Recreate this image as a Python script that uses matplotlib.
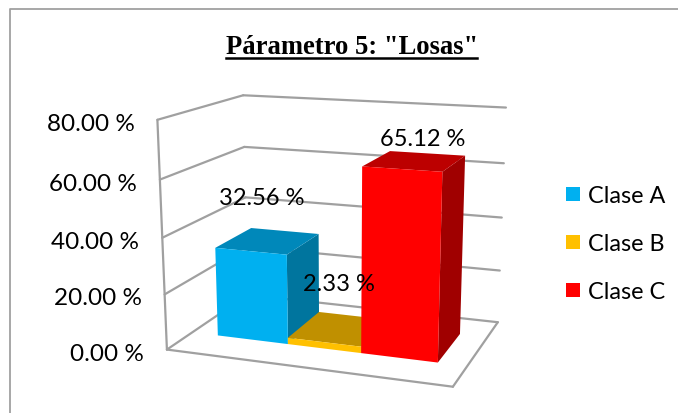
import numpy as np
import matplotlib
matplotlib.use("Agg")
import matplotlib.pyplot as plt
from matplotlib.patches import Polygon, Rectangle

categories = ["Clase A", "Clase B", "Clase C"]
values = [32.56, 2.33, 65.12]
value_labels = ["32.56 %", "2.33 %", "65.12 %"]
ticks = [0, 20, 40, 60, 80]
tick_labels = ["0.00 %", "20.00 %", "40.00 %", "60.00 %", "80.00 %"]

colors = ["#00B0F0", "#FFC000", "#FF0000"]
top_colors = ["#0088BA", "#C09000", "#BC0000"]
side_colors = ["#00759E", "#A67C00", "#A00000"]

# where the chart box corners sit in the picture, used to fit the projection
calib = [
    (0, 0, 0, 166, 350), (0, 20, 0, 165, 295), (0, 40, 0, 163, 238), (0, 60, 0, 160, 180), (0, 80, 0, 157, 122),
    (0, 0, 1, 248, 296), (0, 20, 1, 247, 250), (0, 40, 1, 245, 198), (0, 60, 1, 244, 147), (0, 80, 1, 243, 96),
    (1, 0, 1, 497, 323), (1, 20, 1, 500, 270), (1, 40, 1, 502, 218), (1, 60, 1, 504, 165), (1, 80, 1, 506, 109),
    (1, 0, 0, 453, 389),
]

A = []
b = []
for x, v, z, px, py in calib:
    A.append([x, v, z, 1, 0, 0, 0, 0, -px * x, -px * v, -px * z])
    b.append(px)
    A.append([0, 0, 0, 0, x, v, z, 1, -py * x, -py * v, -py * z])
    b.append(py)
h = np.linalg.lstsq(np.array(A, float), np.array(b, float), rcond=None)[0]
P = np.append(h, 1).reshape(3, 4)


def proj(x, v, z):
    p = P @ np.array([x, v, z, 1.0])
    return p[0] / p[2], p[1] / p[2]


def line3d(ax, a, b):
    p, q = proj(*a), proj(*b)
    ax.plot([p[0], q[0]], [p[1], q[1]], color="#A0A0A0", lw=1.6, solid_capstyle="round", zorder=1)


fig = plt.figure(figsize=(6.78, 4.14), dpi=100)
ax = fig.add_axes([0, 0, 1, 1])
ax.set_xlim(0, 678)
ax.set_ylim(414, 0)
ax.axis("off")

# outer chart border
ax.plot([9.5, 9.5, 678], [414, 9.5, 9.5], color="#A0A0A0", lw=1.3)

ax.text(352, 47.5, 'Párametro 5: "Losas"', family="Liberation Serif", fontweight="bold",
        fontsize=19.2, ha="center", va="center")
ax.plot([226, 477], [59, 59], color="black", lw=1.8)

# walls and floor
for t, lab in zip(ticks, tick_labels):
    line3d(ax, (0, t, 0), (0, t, 1))
    line3d(ax, (0, t, 1), (1, t, 1))
    px, py = proj(0, t, 0)
    ax.text(px - 23, py + 3.5, lab, family="Lato", fontsize=17.5, ha="right", va="center")
line3d(ax, (0, 0, 0), (0, 80, 0))
line3d(ax, (0, 0, 0), (1, 0, 0))
line3d(ax, (1, 0, 0), (1, 0, 1))

# bars
x0 = 0.1
w = 0.267
z0, z1 = 0.285, 0.74
for i, val in enumerate(values):
    xa = x0 + i * w
    xb = xa + w
    front = [proj(xa, 0, z0), proj(xb, 0, z0), proj(xb, val, z0), proj(xa, val, z0)]
    top = [proj(xa, val, z0), proj(xb, val, z0), proj(xb, val, z1), proj(xa, val, z1)]
    side = [proj(xb, 0, z0), proj(xb, 0, z1), proj(xb, val, z1), proj(xb, val, z0)]
    zo = 3 + i
    ax.add_patch(Polygon(side, fc=side_colors[i], ec="none", zorder=zo))
    ax.add_patch(Polygon(top, fc=top_colors[i], ec="none", zorder=zo))
    ax.add_patch(Polygon(front, fc=colors[i], ec="none", zorder=zo))

label_pos = [(262, 199), (339, 285), (423, 140)]
for lab, (px, py) in zip(value_labels, label_pos):
    ax.text(px, py, lab, family="Lato", fontsize=17, ha="center", va="center", zorder=10)

# legend
leg_y = [195, 243, 291]
for name, c, y in zip(categories, colors, leg_y):
    ax.add_patch(Rectangle((566, y - 7), 14, 14, fc=c, ec="none"))
    ax.text(588, y + 1.5, name, family="Lato", fontsize=16.8, ha="left", va="center")

fig.savefig("out.png", dpi=100)
